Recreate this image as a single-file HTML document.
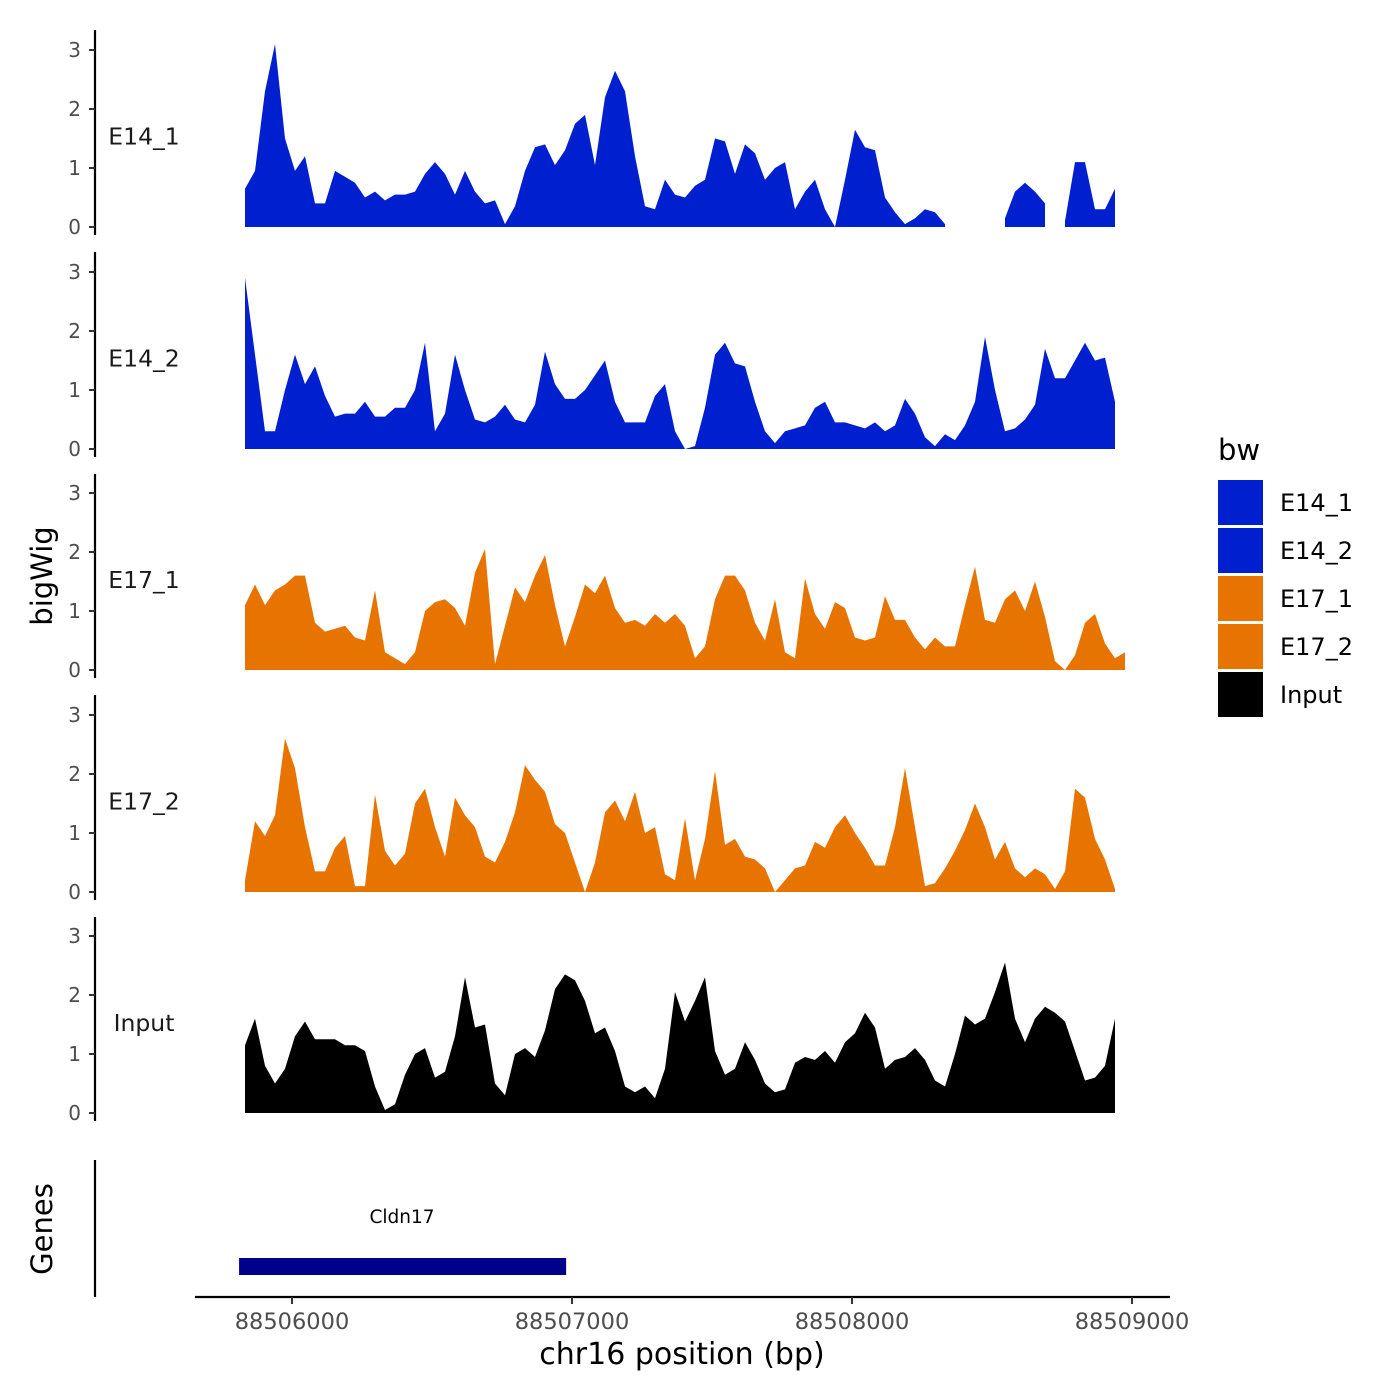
<!DOCTYPE html>
<html><head><meta charset="utf-8">
<style>
html,body{margin:0;padding:0;background:#fff;}
svg{display:block;font-family:"DejaVu Sans","Liberation Sans",sans-serif;}
</style></head>
<body>
<svg id="chart" width="1400" height="1400" viewBox="0 0 1400 1400" xmlns="http://www.w3.org/2000/svg"></svg>
<script>
// ---- data ----
const trackNames = ["E14_1","E14_2","E17_1","E17_2","Input"];
const trackColors = ["#0020D0","#0020D0","#E87400","#E87400","#000000"];
const startBp = 88505832;
const stepBp = 35.714;
const e14_1 = [.65,.95,2.3,3.1,1.5,.95,1.2,.4,.4,.95,.85,.75,.5,.6,.45,.55,.55,.6,.9,1.1,.9,.55,.95,.6,.4,.45,.05,.35,.95,1.35,1.4,1.05,1.3,1.75,1.9,1.05,2.2,2.65,2.3,1.2,.35,.3,.8,.55,.5,.7,.8,1.5,1.45,.9,1.4,1.25,.8,1.0,1.1,.3,.6,.8,.3,0,.8,1.65,1.35,1.3,.5,.25,.05,.15,.3,.25,.05,null,null,null,null,null,.15,.6,.75,.6,.4,null,.1,1.1,1.1,.3,.3,.65,null];
const e14_2 = [2.9,1.6,.3,.3,1.0,1.6,1.1,1.4,.9,.55,.6,.6,.8,.55,.55,.7,.7,1.0,1.8,.3,.6,1.6,1.0,.5,.45,.55,.75,.5,.45,.75,1.65,1.1,.85,.85,1.0,1.25,1.5,.8,.45,.45,.45,.9,1.1,.3,0,.05,.7,1.6,1.8,1.45,1.4,.8,.3,.1,.3,.35,.4,.7,.8,.45,.45,.4,.35,.45,.3,.4,.85,.6,.2,.05,.25,.15,.4,.8,1.9,1.0,.3,.35,.5,.75,1.7,1.2,1.2,1.5,1.8,1.5,1.55,.8,null];
const e17_1 = [1.1,1.45,1.1,1.35,1.45,1.6,1.6,.8,.65,.7,.75,.55,.5,1.35,.3,.2,.1,.3,1.0,1.15,1.2,1.05,.75,1.65,2.05,.1,.75,1.4,1.15,1.6,1.95,1.1,.4,.9,1.45,1.3,1.6,1.05,.8,.85,.75,.95,.8,.95,.75,.2,.4,1.2,1.6,1.6,1.35,.8,.5,1.2,.3,.2,1.55,.95,.7,1.15,1.05,.55,.5,.55,1.25,.85,.85,.55,.35,.55,.4,.4,1.1,1.75,.85,.8,1.2,1.35,1.0,1.5,.9,.15,0,.25,.8,.95,.45,.2,.3];
const e17_2 = [.2,1.2,.95,1.3,2.6,2.1,1.1,.35,.35,.75,.95,.1,.1,1.65,.7,.45,.65,1.5,1.75,1.1,.6,1.6,1.3,1.1,.6,.5,.85,1.35,2.15,1.9,1.7,1.15,1.0,.5,0,.5,1.35,1.55,1.2,1.7,1.0,1.1,.3,.2,1.25,.2,.9,2.05,.8,.9,.6,.55,.4,0,.2,.4,.45,.85,.75,1.1,1.3,1.0,.75,.45,.45,1.1,2.1,1.1,.1,.15,.4,.7,1.05,1.5,1.1,.55,.85,.4,.25,.4,.3,.05,.35,1.75,1.6,.9,.55,.05,null];
const input = [1.15,1.6,.8,.5,.75,1.3,1.55,1.25,1.25,1.25,1.15,1.15,1.05,.45,.05,.15,.65,1.0,1.1,.6,.7,1.3,2.3,1.45,1.5,.5,.3,1.0,1.1,.95,1.4,2.1,2.35,2.25,1.9,1.35,1.45,1.05,.45,.35,.45,.25,.75,2.05,1.55,1.9,2.3,1.05,.65,.75,1.2,.9,.5,.35,.4,.85,.95,.9,1.05,.85,1.2,1.35,1.7,1.45,.75,.9,.95,1.1,.9,.55,.45,1.0,1.65,1.5,1.6,2.05,2.55,1.6,1.2,1.6,1.8,1.7,1.55,1.05,.55,.6,.8,1.6,null];
const yTicks = [0,1,2,3];
const xTicks = [88506000,88507000,88508000,88509000];
const legendLabels = ["E14_1","E14_2","E17_1","E17_2","Input"];
const geneName = "Cldn17";
const geneStart = 88505811, geneEnd = 88506979;
const allSeries = [e14_1,e14_2,e17_1,e17_2,input];

// ---- scales ----
const X = bp => 292 + (bp - 88506000) * 0.28;
const panelZero = [227,449,670,892,1113];
const panelTop = [30,252,474,695,917];
const Y = (p,v) => panelZero[p] - v * 59;

const svg = document.getElementById('chart');
const NS = "http://www.w3.org/2000/svg";
function mk(tag, attrs, parent){ const e=document.createElementNS(NS,tag); for(const k in attrs) e.setAttribute(k,attrs[k]); (parent||svg).appendChild(e); return e; }

allSeries.forEach((vals,p)=>{
  const g = mk('g',{});
  
  
  let seg=[];
  const flush=()=>{
    if(seg.length>1){
      let d=`M${X(seg[0][0]).toFixed(1)},${panelZero[p]}`;
      seg.forEach(s=>{ d+=` L${X(s[0]).toFixed(1)},${Y(p,s[1]).toFixed(1)}`; });
      d+=` L${X(seg[seg.length-1][0]).toFixed(1)},${panelZero[p]} Z`;
      const a = mk('path',{d:d,fill:trackColors[p]},g);
      
      
    }
    seg=[];
  };
  vals.forEach((v,i)=>{ if(v===null) flush(); else seg.push([startBp+i*stepBp, v]); });
  flush();
  const ax = mk('line',{x1:95,x2:95,y1:panelTop[p],y2:panelZero[p]+8,stroke:'#000','stroke-width':2.2},g);
  
  
  yTicks.forEach(t=>{
    mk('line',{x1:89,x2:95,y1:Y(p,t),y2:Y(p,t),stroke:'#333','stroke-width':2},g);
    const tx = mk('text',{x:81,y:Y(p,t)+7,'text-anchor':'end','font-size':20,fill:'#4d4d4d'},g);
    tx.textContent = t;
    
    
  });
  const lab = mk('text',{x:144,y:(panelTop[p]+panelZero[p])/2+16,'text-anchor':'middle','font-size':23.5,fill:'#1a1a1a'},g);
  lab.textContent = trackNames[p];
  
  
});

let t = mk('text',{x:0,y:0,transform:'translate(52,576) rotate(-90)','text-anchor':'middle','font-size':29});
t.textContent='bigWig';


t = mk('text',{x:0,y:0,transform:'translate(52,1229) rotate(-90)','text-anchor':'middle','font-size':29});
t.textContent='Genes';



let l = mk('line',{x1:95,x2:95,y1:1160,y2:1297,stroke:'#000','stroke-width':2.2});


const gr = mk('rect',{x:X(geneStart),y:1258,width:X(geneEnd)-X(geneStart),height:17,fill:'#00008B'});


t = mk('text',{x:402,y:1223,'text-anchor':'middle','font-size':18.5});
t.textContent=geneName;



l = mk('line',{x1:195,x2:1170,y1:1297,y2:1297,stroke:'#000','stroke-width':2.2});


xTicks.forEach(v=>{
  mk('line',{x1:X(v),x2:X(v),y1:1297,y2:1304,stroke:'#333','stroke-width':2});
  const tx = mk('text',{x:X(v),y:1329,'text-anchor':'middle','font-size':22.5,fill:'#4d4d4d'});
  tx.textContent=v;
  
  
});
t = mk('text',{x:682,y:1364,'text-anchor':'middle','font-size':30});
t.textContent='chr16 position (bp)';



t = mk('text',{x:1218,y:460,'font-size':29});
t.textContent='bw';


legendLabels.forEach((name,i)=>{
  const y0 = 480 + i*48;
  const r = mk('rect',{x:1218,y:y0,width:45,height:45,fill:trackColors[i]});
  
  
  const tx = mk('text',{x:1280,y:y0+31,'font-size':24});
  tx.textContent=name;
  
  
});
</script>
</body></html>
